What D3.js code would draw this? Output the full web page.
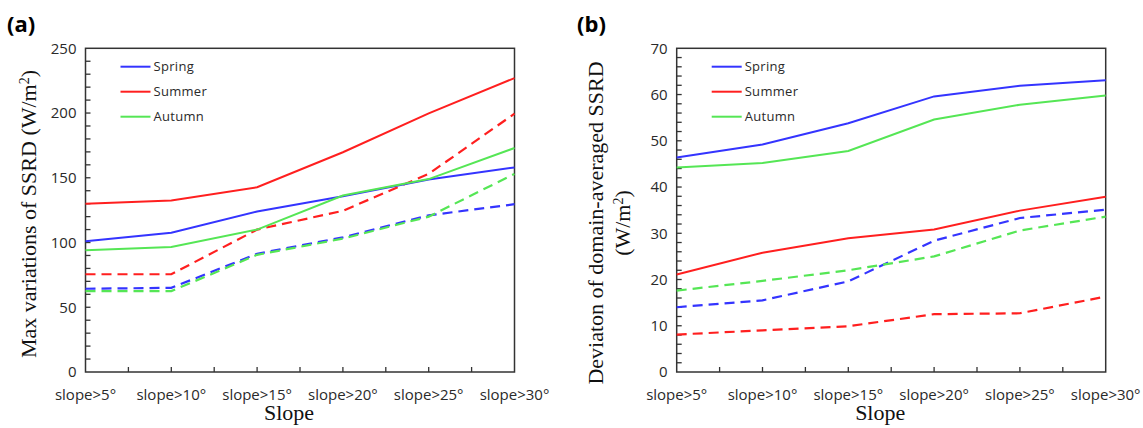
<!DOCTYPE html>
<html>
<head>
<meta charset="utf-8">
<script src="https://cdn.jsdelivr.net/npm/d3@7.9.0/dist/d3.min.js"></script>
<style>
  body { margin: 0; background: #fff; }
  svg { display: block; }
  .tick-label { font-family: "Open Sans", sans-serif; font-size: 15px; fill: #2a2a2a; }
  .legend-text { font-family: "Open Sans", sans-serif; font-size: 13px; fill: #2a2a2a; letter-spacing: 0.3px; }
  .title { font-family: "Liberation Serif", "Times New Roman", serif; font-size: 22px; fill: #111; }
  .panel-tag { font-family: "Open Sans", sans-serif; font-size: 22px; font-weight: bold; fill: #000; }
</style>
</head>
<body>
<svg id="chart" width="1143" height="428"></svg>
<script>
const categories = ['slope>5°', 'slope>10°', 'slope>15°', 'slope>20°', 'slope>25°', 'slope>30°'];
const seasons = ['Spring', 'Summer', 'Autumn'];
const seasonColors = ['#3434ff', '#ff1f1f', '#55e655'];

// (a) max variations of SSRD
const maxSpring      = [101, 107.5, 124, 135.8, 148.7, 158];
const maxSummer      = [130, 132.5, 142.7, 169.7, 199.8, 227];
const maxAutumn      = [94, 96.5, 110, 136.3, 149, 173];
const maxSpringDash  = [64.3, 65, 91.3, 104, 121, 129.6];
const maxSummerDash  = [75.5, 75.5, 110, 124.5, 153, 199.5];
const maxAutumnDash  = [62.5, 62.5, 90.5, 103, 120, 153];

// (b) deviation of domain-averaged SSRD
const devSpring      = [46.4, 49.2, 53.8, 59.6, 61.9, 63.1];
const devSummer      = [21.1, 25.8, 28.9, 30.8, 34.9, 37.9];
const devAutumn      = [44.2, 45.2, 47.8, 54.6, 57.8, 59.8];
const devSpringDash  = [14.0, 15.5, 19.6, 28.4, 33.3, 35.1];
const devSummerDash  = [8.1, 9.0, 9.9, 12.5, 12.7, 16.3];
const devAutumnDash  = [17.6, 19.7, 22.0, 25.0, 30.6, 33.6];

const svg = d3.select('#chart');

function drawPanel(opts) {
    const g = svg.append('g');
    const left = opts.left, right = opts.left + 429, top = 48.3, bottom = 372;

    const x = d3.scalePoint().domain(categories).range([left, right]);
    const xHalf = d3.scaleLinear().domain([0, 10]).range([left, right]);
    const y = d3.scaleLinear().domain([0, opts.max]).range([bottom, top]);

    // frame
    g.append('rect')
        .attr('x', left).attr('y', top)
        .attr('width', right - left).attr('height', bottom - top)
        .attr('fill', 'none').attr('stroke', '#333').attr('stroke-width', 1.5);

    // y minor ticks (inward)
    const yTicks = d3.range(opts.minor, opts.max, opts.minor);
    g.selectAll('.ytk').data(yTicks).join('line')
        .attr('x1', left).attr('x2', left + 5)
        .attr('y1', d => y(d)).attr('y2', d => y(d))
        .attr('stroke', '#333').attr('stroke-width', 1.3);

    // y labels
    g.selectAll('.ylab').data(d3.range(0, opts.max + 1, opts.major)).join('text')
        .attr('class', 'tick-label')
        .attr('x', left - 9).attr('y', d => y(d))
        .attr('dy', '0.35em')
        .attr('text-anchor', 'end')
        .text(d => d);

    // x ticks at each half step
    g.selectAll('.xtk').data(d3.range(1, 10)).join('line')
        .attr('x1', d => xHalf(d)).attr('x2', d => xHalf(d))
        .attr('y1', bottom).attr('y2', bottom - 5)
        .attr('stroke', '#333').attr('stroke-width', 1.3);

    // x labels
    g.selectAll('.xlab').data(categories).join('text')
        .attr('class', 'tick-label')
        .attr('x', d => x(d)).attr('y', 400)
        .attr('text-anchor', 'middle')
        .text(d => d);

    // lines
    const line = d3.line()
        .x((d, i) => x(categories[i]))
        .y(d => y(d));

    opts.dashed.forEach((vals, i) => {
        g.append('path')
            .attr('d', line(vals))
            .attr('fill', 'none')
            .attr('stroke', seasonColors[i])
            .attr('stroke-width', 2.2)
            .attr('stroke-dasharray', '10,6');
    });
    opts.solid.forEach((vals, i) => {
        g.append('path')
            .attr('d', line(vals))
            .attr('fill', 'none')
            .attr('stroke', seasonColors[i])
            .attr('stroke-width', 2);
    });

    // legend
    seasons.forEach((s, i) => {
        const ly = 66.7 + i * 25;
        g.append('line')
            .attr('x1', left + 35).attr('x2', left + 65)
            .attr('y1', ly).attr('y2', ly)
            .attr('stroke', seasonColors[i]).attr('stroke-width', 2);
        g.append('text')
            .attr('class', 'legend-text')
            .attr('x', left + 68).attr('y', ly)
            .attr('dy', '0.36em')
            .text(s);
    });

    // axis titles
    g.append('text')
        .attr('class', 'title')
        .attr('x', (left + right) / 2 - 11).attr('y', 420)
        .attr('text-anchor', 'middle')
        .text('Slope');

    opts.yTitle.forEach((t, i) => {
        const tx = opts.yTitleX[i], ty = opts.yTitleY;
        const txt = g.append('text')
            .attr('class', 'title')
            .attr('font-size', opts.yTitleSize + 'px')
            .attr('transform', `translate(${tx},${ty}) rotate(-90)`)
            .attr('text-anchor', 'middle')
            .attr('dy', '0.35em');
        txt.append('tspan').text(t.main);
        if (t.sup) {
            txt.append('tspan').attr('baseline-shift', 'super').attr('font-size', '14px').text(t.sup);
            txt.append('tspan').text(t.tail);
        }
    });

    // panel tag
    g.append('text')
        .attr('class', 'panel-tag')
        .attr('x', opts.tagX).attr('y', 32)
        .text(opts.tag);
}

drawPanel({
    left: 85.5, max: 250, major: 50, minor: 10, tag: '(a)', tagX: 7,
    solid: [maxSpring, maxSummer, maxAutumn],
    dashed: [maxSpringDash, maxSummerDash, maxAutumnDash],
    yTitle: [{ main: 'Max variations of SSRD (W/m', sup: '2', tail: ')' }],
    yTitleX: [28], yTitleY: 214, yTitleSize: 22
});

drawPanel({
    left: 676.7, max: 70, major: 10, minor: 2, tag: '(b)', tagX: 577,
    solid: [devSpring, devSummer, devAutumn],
    dashed: [devSpringDash, devSummerDash, devAutumnDash],
    yTitle: [{ main: 'Deviaton of domain-averaged SSRD' },
             { main: '(W/m', sup: '2', tail: ')' }],
    yTitleX: [595, 622], yTitleY: 223, yTitleSize: 20.8
});
</script>
</body>
</html>
